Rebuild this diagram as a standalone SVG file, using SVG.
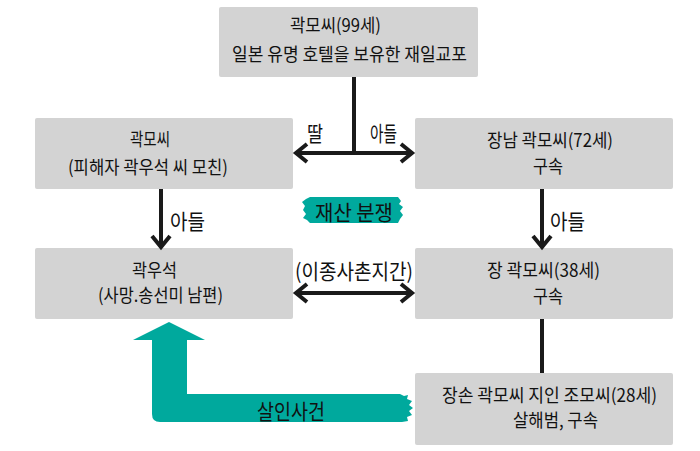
<svg xmlns="http://www.w3.org/2000/svg" width="700" height="451" viewBox="0 0 700 451">
<defs>
<style>
.box{fill:#d3d3d3}
.t{font-family:"Noto Sans CJK KR","Noto Sans",sans-serif;font-size:18px;fill:#111111}
.l{font-family:"Noto Sans CJK KR","Noto Sans",sans-serif;font-size:21px;fill:#111111}
.ln{stroke:#1a1a1a;stroke-width:4;fill:none}
.teal{fill:#00a99d}
</style>
<marker id="chev" viewBox="-14 -12 18 24" refX="0" refY="0" markerWidth="18" markerHeight="24" markerUnits="userSpaceOnUse" orient="auto-start-reverse">
<path d="M-11,-9 L0,0 L-11,9" fill="none" stroke="#1a1a1a" stroke-width="4"/>
</marker>
</defs>
<rect width="700" height="451" fill="#ffffff"/>

<g id="n-top">
<rect class="box" x="219" y="7" width="259" height="70" rx="2"/>
<text class="t" x="290" y="32" textLength="91" lengthAdjust="spacingAndGlyphs">곽모씨(99세)</text>
<text class="t" x="232" y="61" textLength="235" lengthAdjust="spacingAndGlyphs">일본 유명 호텔을 보유한 재일교포</text>
</g>
<g id="n-mother">
<rect class="box" x="35" y="118" width="258" height="71" rx="2"/>
<text class="t" x="130" y="146" textLength="40" lengthAdjust="spacingAndGlyphs">곽모씨</text>
<text class="t" x="68" y="174" textLength="160" lengthAdjust="spacingAndGlyphs">(피해자 곽우석 씨 모친)</text>
</g>
<g id="n-eldest">
<rect class="box" x="415" y="118" width="258" height="71" rx="2"/>
<text class="t" x="487" y="147" textLength="126" lengthAdjust="spacingAndGlyphs">장남 곽모씨(72세)</text>
<text class="t" x="533" y="173" textLength="30" lengthAdjust="spacingAndGlyphs">구속</text>
</g>
<g id="n-victim">
<rect class="box" x="35" y="248" width="258" height="71" rx="2"/>
<text class="t" x="132" y="277" textLength="45" lengthAdjust="spacingAndGlyphs">곽우석</text>
<text class="t" x="98" y="302" textLength="125" lengthAdjust="spacingAndGlyphs">(사망.송선미 남편)</text>
</g>
<g id="n-grandson">
<rect class="box" x="415" y="248" width="258" height="71" rx="2"/>
<text class="t" x="487" y="277" textLength="113" lengthAdjust="spacingAndGlyphs">장 곽모씨(38세)</text>
<text class="t" x="533" y="303" textLength="30" lengthAdjust="spacingAndGlyphs">구속</text>
</g>
<g id="n-killer">
<rect class="box" x="415" y="373" width="258" height="72" rx="2"/>
<text class="t" x="442" y="402" textLength="215" lengthAdjust="spacingAndGlyphs">장손 곽모씨 지인 조모씨(28세)</text>
<text class="t" x="513" y="427" textLength="85" lengthAdjust="spacingAndGlyphs">살해범, 구속</text>
</g>

<g id="connectors">
<line class="ln" x1="354" y1="77" x2="354" y2="153"/>
<line class="ln" x1="296" y1="153" x2="412" y2="153" marker-start="url(#chev)" marker-end="url(#chev)"/>
<line class="ln" x1="161" y1="189" x2="161" y2="247" marker-end="url(#chev)"/>
<line class="ln" x1="542" y1="189" x2="542" y2="247" marker-end="url(#chev)"/>
<line class="ln" x1="296" y1="293" x2="412" y2="293" marker-start="url(#chev)" marker-end="url(#chev)"/>
<line class="ln" x1="542" y1="319" x2="542" y2="373"/>
<text class="l" x="307" y="141" textLength="16" lengthAdjust="spacingAndGlyphs">딸</text>
<text class="l" x="370" y="141" textLength="27" lengthAdjust="spacingAndGlyphs">아들</text>
<text class="l" x="170" y="229" textLength="35" lengthAdjust="spacingAndGlyphs">아들</text>
<text class="l" x="550" y="229" textLength="35" lengthAdjust="spacingAndGlyphs">아들</text>
<text class="l" x="295" y="279" textLength="118" lengthAdjust="spacingAndGlyphs">(이종사촌지간)</text>
</g>

<g id="dispute">
<path class="teal" d="M310,197 L398,197 L401,201 L399,204 L403,207 L400,211 L403,215 L400,219 L398,223 L310,223 L307,220 L303,218 L306,214 L303,210 L305,206 L302,202 L306,199 Z"/>
<text class="l" x="315" y="220" textLength="78" lengthAdjust="spacingAndGlyphs">재산 분쟁</text>
</g>

<g id="murder">
<path class="teal" d="M169,322 L205,340 L187,340 L187,394 L400,394 L404,396 L408,395 L407,399 L412,401 L409,405 L413,408 L409,411 L412,415 L407,417 L408,421 L402,422 L160,422 Q152,422 152,414 L152,340 L133,340 Z"/>
<text class="l" x="257" y="419" textLength="68" lengthAdjust="spacingAndGlyphs">살인사건</text>
</g>
</svg>
